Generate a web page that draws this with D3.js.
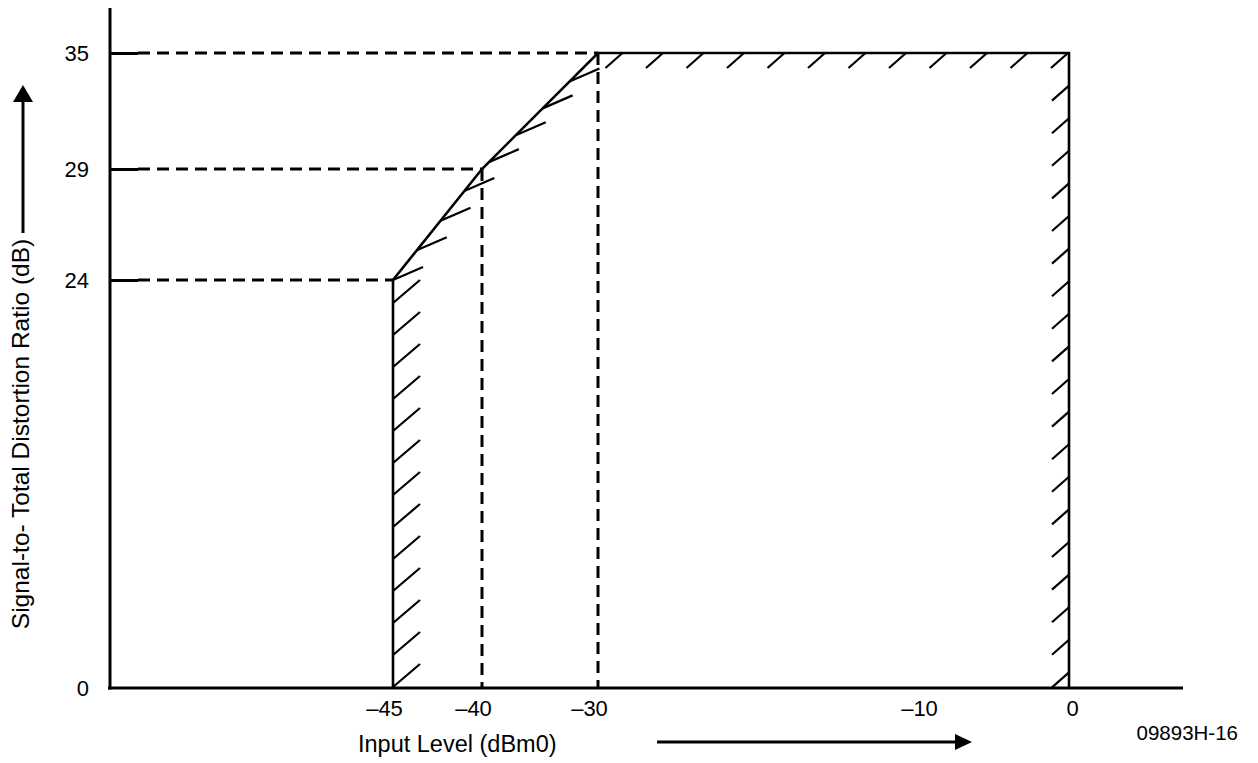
<!DOCTYPE html>
<html>
<head>
<meta charset="utf-8">
<script src="https://cdn.jsdelivr.net/npm/d3@7"></script>
<style>
  body { margin: 0; background: #fff; }
  svg { display: block; font-family: "Liberation Sans", Arial, Helvetica, sans-serif; }
</style>
</head>
<body>
<script>
// values (schematic, not to scale)
const xTicks = [-45, -40, -30, -10, 0];
const xTickLabels = ["\u201345", "\u201340", "\u201330", "\u201310", "0"];
const yTicks = [0, 24, 29, 35];
const maskX = [-45, -45, -40, -30, 0, 0];
const maskY = [0, 24, 29, 35, 35, 0];
const guideX = [-45, -40, -30];
const guideY = [24, 29, 35];

const w = 1258;
const h = 763;

// piecewise scales, the drawing is not linear
const x = d3.scaleLinear().domain(xTicks).range([393, 482, 598, 928, 1069]);
const y = d3.scaleLinear().domain(yTicks).range([688, 280, 169, 53]);
const x0 = 110, xEnd = 1183, yTop = 8;

const svg = d3.select("body")
  .append("svg")
  .attr("width", w)
  .attr("height", h);

const mask = maskX.map((v, i) => [x(v), y(maskY[i])]);

// dashed guides
const guides = svg.append("g")
  .attr("stroke", "#000")
  .attr("stroke-width", 3)
  .attr("stroke-dasharray", "12,7")
  .attr("fill", "none");

guideY.forEach((v, i) => {
  guides.append("line")
    .attr("x1", x0 + 28).attr("x2", x(guideX[i]))
    .attr("y1", y(v)).attr("y2", y(v));
});
guideX.slice(1).forEach((v, i) => {
  guides.append("line")
    .attr("x1", x(v)).attr("x2", x(v))
    .attr("y1", y(guideY[i + 1])).attr("y2", y(0));
});

// hatch marks along a polyline
function hatch(pts, offset, spacing, vec, count) {
  const segs = [];
  let total = 0;
  for (let i = 1; i < pts.length; i++) {
    const len = Math.hypot(pts[i][0] - pts[i-1][0], pts[i][1] - pts[i-1][1]);
    segs.push({a: pts[i-1], b: pts[i], start: total, len: len});
    total += len;
  }
  const out = [];
  for (let k = 0; k < count; k++) {
    const d = offset + k * spacing;
    if (d > total + 0.5) break;
    const s = segs.find(s => d <= s.start + s.len + 0.01) || segs[segs.length - 1];
    const t = (d - s.start) / s.len;
    const px = s.a[0] + (s.b[0] - s.a[0]) * t;
    const py = s.a[1] + (s.b[1] - s.a[1]) * t;
    out.push([px, py, px + vec[0], py + vec[1]]);
  }
  return out;
}

const hatches = [].concat(
  hatch([mask[0], mask[1]], 1, 32, [27, -23], 13),
  hatch([mask[1], mask[2], mask[3]], 0, 38, [30, -13], 8),
  hatch([mask[4], mask[3]], 1, 40.5, [-17, 15], 12),
  hatch([mask[4], mask[5]], 32.6, 32.6, [-17, 15], 19)
);

svg.append("g")
  .selectAll("line")
  .data(hatches)
  .enter().append("line")
  .attr("x1", d => d[0]).attr("y1", d => d[1])
  .attr("x2", d => d[2]).attr("y2", d => d[3])
  .attr("stroke", "#000")
  .attr("stroke-width", 2.2);

// mask outline
svg.append("path")
  .attr("d", d3.line()(mask))
  .attr("fill", "none")
  .attr("stroke", "#000")
  .attr("stroke-width", 2.6)
  .attr("stroke-linejoin", "miter");

// axes
const yAxis = d3.axisLeft(y)
  .tickValues(yTicks)
  .tickSize(-28)
  .tickPadding(21);

const gy = svg.append("g")
  .attr("transform", `translate(${x0},0)`)
  .call(yAxis);
gy.select(".domain").remove();
gy.selectAll(".tick line").attr("stroke", "#000").attr("stroke-width", 3);
gy.selectAll(".tick text").attr("font-size", 22).attr("fill", "#000");
gy.select(".tick line").remove(); // no tick at 0

const xAxis = d3.axisBottom(x)
  .tickValues(xTicks)
  .tickFormat((d, i) => xTickLabels[i])
  .tickSize(0)
  .tickPadding(12);

const gx = svg.append("g")
  .attr("transform", `translate(0,${y(0)})`)
  .call(xAxis);
gx.select(".domain").remove();
gx.selectAll(".tick text")
  .attr("font-size", 22)
  .attr("fill", "#000")
  .attr("dx", d => d < 0 ? -9 : 3);

svg.append("line")
  .attr("x1", x0).attr("x2", x0)
  .attr("y1", yTop).attr("y2", y(0) + 1.5)
  .attr("stroke", "#000").attr("stroke-width", 3);
svg.append("line")
  .attr("x1", x0 - 2).attr("x2", xEnd)
  .attr("y1", y(0)).attr("y2", y(0))
  .attr("stroke", "#000").attr("stroke-width", 3);

// axis titles with arrows
svg.append("text")
  .attr("transform", "translate(29,434) rotate(-90)")
  .attr("text-anchor", "middle")
  .attr("font-size", 24.5)
  .text("Signal-to- Total Distortion Ratio (dB)");

svg.append("line")
  .attr("x1", 23).attr("x2", 23)
  .attr("y1", 233).attr("y2", 100)
  .attr("stroke", "#000").attr("stroke-width", 3);
svg.append("path")
  .attr("d", "M23,85 L13,102 L33,102 Z")
  .attr("fill", "#000");

svg.append("text")
  .attr("x", 358).attr("y", 752)
  .attr("font-size", 23.5)
  .text("Input Level (dBm0)");

svg.append("line")
  .attr("x1", 657).attr("x2", 958)
  .attr("y1", 742).attr("y2", 742)
  .attr("stroke", "#000").attr("stroke-width", 3);
svg.append("path")
  .attr("d", "M972,742 L955,734 L955,750 Z")
  .attr("fill", "#000");

svg.append("text")
  .attr("x", 1238).attr("y", 740)
  .attr("text-anchor", "end")
  .attr("font-size", 20.5)
  .text("09893H-16");
</script>
</body>
</html>
